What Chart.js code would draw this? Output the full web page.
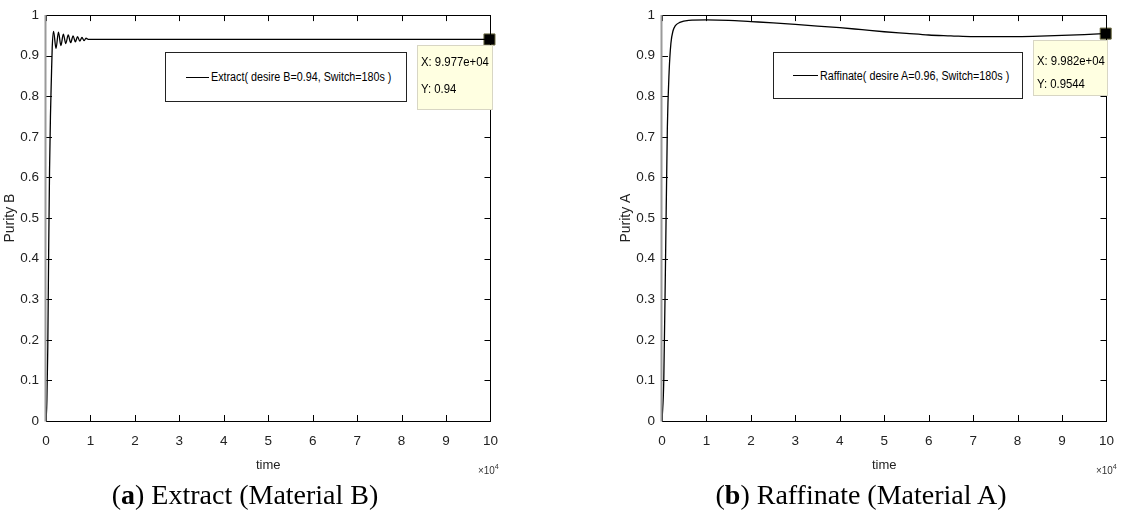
<!DOCTYPE html>
<html>
<head>
<meta charset="utf-8">
<script src="https://cdn.jsdelivr.net/npm/chart.js@4.4.1/dist/chart.umd.min.js"></script>
<style>
  html, body { margin:0; padding:0; background:#fff; }
  body { width:1126px; height:518px; position:relative; overflow:hidden;
         font-family:"Liberation Sans Narrow","Arial Narrow","Liberation Sans",Arial,sans-serif; }
  .cv { position:absolute; top:0; }
  .legend { position:absolute; background:#fff; border:1px solid #222; box-sizing:border-box;
            display:flex; align-items:center; font-size:12.5px; color:#000; white-space:nowrap; }
  .legend .ln { display:inline-block; height:0; border-top:1.3px solid #000; margin-right:2px; flex:none; }
  .legend .tx { display:inline-block; transform:scaleX(0.86); transform-origin:left center; }
  .tip { position:absolute; background:#ffffe1; border:1px solid #d8d6c4; box-sizing:border-box;
         font-size:13.5px; color:#000; white-space:nowrap; }
  .tip div { position:absolute; left:3px; transform:scaleX(0.84); transform-origin:left center; }
  .mult { position:absolute; font-size:11px; color:#333; transform:scaleX(0.9); transform-origin:left top; }
  .mult sup { font-size:8px; vertical-align:5px; }
  .cap { position:absolute; top:479px; font-family:"Liberation Serif","Times New Roman",serif;
         font-size:28px; color:#000; white-space:nowrap; transform:translateX(-50%); }
</style>
</head>
<body>
<canvas id="cA" class="cv" style="left:0px" width="510" height="480"></canvas>
<canvas id="cB" class="cv" style="left:616px" width="510" height="480"></canvas>

<div class="legend" style="left:165px;top:52px;width:242px;height:50px;padding-left:20px;">
  <span class="ln" style="width:23px"></span><span class="tx" id="legAtext"></span></div>
<div class="legend" style="left:773px;top:52px;width:250px;height:47px;padding-left:19px;">
  <span class="ln" style="width:25px"></span><span class="tx" id="legBtext"></span></div>

<div class="tip" style="left:417px;top:45px;width:76px;height:65px;">
  <div id="tipAx" style="top:8px"></div><div id="tipAy" style="top:35px"></div></div>
<div class="tip" style="left:1033px;top:40px;width:75px;height:56px;">
  <div id="tipBx" style="top:12px"></div><div id="tipBy" style="top:35px"></div></div>

<div class="mult" style="left:478px;top:462px">&times;10<sup>4</sup></div>
<div class="mult" style="left:1096px;top:462px">&times;10<sup>4</sup></div>

<div class="cap" style="left:245px">(<b>a</b>) Extract (Material B)</div>
<div class="cap" style="left:861px">(<b>b</b>) Raffinate (Material A)</div>

<script>
// ---- data (time in units of 10^4 s) ----
const xTickValues = [0,1,2,3,4,5,6,7,8,9,10];
const yTickValues = [0,0.1,0.2,0.3,0.4,0.5,0.6,0.7,0.8,0.9,1];

const extractTime   = [0,0.02,0.04,0.06,0.08,0.10,0.12,0.14,0.17,0.225,0.28,0.335,0.39,0.445,0.50,0.555,0.61,0.66,0.71,0.76,0.81,0.855,0.90,0.95,1.0,2,3,4,5,6,7,8,9,9.977];
const extractPurity = [0,0.05,0.18,0.42,0.62,0.75,0.84,0.92,0.960,0.918,0.958,0.925,0.953,0.930,0.951,0.932,0.949,0.934,0.947,0.936,0.945,0.937,0.943,0.940,0.940,0.94,0.94,0.94,0.94,0.94,0.94,0.94,0.94,0.94];

const raffTime   = [0,0.04,0.08,0.12,0.16,0.20,0.25,0.30,0.40,0.60,1.0,1.5,2,2.5,3,3.5,4,4.5,5,5.5,6,6.5,7,7.5,8,8.5,9,9.5,9.982];
const raffPurity = [0,0.10,0.40,0.72,0.86,0.93,0.962,0.974,0.982,0.987,0.988,0.987,0.984,0.981,0.977,0.973,0.969,0.964,0.959,0.955,0.951,0.949,0.947,0.947,0.947,0.948,0.950,0.952,0.9544];

const extractLabel = "Extract( desire B=0.94, Switch=180s )";
const raffLabel    = "Raffinate( desire A=0.96, Switch=180s )";
const tipA = { xText:"X: 9.977e+04", yText:"Y: 0.94",   x:9.977, y:0.94 };
const tipB = { xText:"X: 9.982e+04", yText:"Y: 0.9544", x:9.982, y:0.9544 };

document.getElementById('legAtext').textContent = extractLabel;
document.getElementById('legBtext').textContent = raffLabel;
document.getElementById('tipAx').textContent = tipA.xText;
document.getElementById('tipAy').textContent = tipA.yText;
document.getElementById('tipBx').textContent = tipB.xText;
document.getElementById('tipBy').textContent = tipB.yText;

const FONT = "'Liberation Sans Narrow','Arial Narrow','Liberation Sans',Arial,sans-serif";

const boxTicks = {
  id:'boxTicks',
  afterDatasetsDraw(chart){
    const {ctx, chartArea:a, scales:{x,y}} = chart;
    ctx.save();
    ctx.lineWidth = 1;
    ctx.strokeStyle = '#000';
    const L = 6;
    ctx.beginPath();
    xTickValues.forEach(v=>{
      const p = Math.round(x.getPixelForValue(v))+0.5;
      ctx.moveTo(p,a.bottom); ctx.lineTo(p,a.bottom-L);
      ctx.moveTo(p,a.top); ctx.lineTo(p,a.top+L);
    });
    yTickValues.forEach(v=>{
      const p = Math.round(y.getPixelForValue(v))+0.5;
      ctx.moveTo(a.left,p); ctx.lineTo(a.left+L,p);
      ctx.moveTo(a.right,p); ctx.lineTo(a.right-L,p);
    });
    ctx.stroke();
    ctx.beginPath();
    ctx.moveTo(a.left, Math.round(a.top)+0.5); ctx.lineTo(a.right, Math.round(a.top)+0.5);
    ctx.moveTo(Math.round(a.right)+0.5, a.top); ctx.lineTo(Math.round(a.right)+0.5, a.bottom);
    ctx.moveTo(a.left, Math.round(a.bottom)+0.5); ctx.lineTo(a.right+0.5, Math.round(a.bottom)+0.5);
    ctx.stroke();
    ctx.strokeStyle = '#9a9a9a';
    ctx.lineWidth = 2;
    ctx.beginPath();
    ctx.moveTo(a.left-0.5, a.top); ctx.lineTo(a.left-0.5, a.bottom+0.5);
    ctx.stroke();
    ctx.restore();
  }
};

function makeChart(id, times, values, label, tip, yTitle, padRight){
  const pts = times.map((t,i)=>({x:t, y:values[i]}));
  return new Chart(document.getElementById(id), {
    type:'line',
    data:{ datasets:[
      { label, data:pts, borderColor:'#000', borderWidth:1.3, pointRadius:0,
        cubicInterpolationMode:'monotone', fill:false },
      { label:'datatip', data:[{x:tip.x, y:tip.y}], showLine:false, pointStyle:'rect',
        pointRadius:7.8, backgroundColor:'#000', borderColor:'#6b6a40', borderWidth:1, clip:false }
    ]},
    options:{
      responsive:false, animation:false, events:[],
      layout:{ padding:{ left:0, right:padRight, top:13, bottom:0 } },
      plugins:{ legend:{display:false}, tooltip:{enabled:false} },
      scales:{
        x:{ type:'linear', min:0, max:10,
            afterBuildTicks:(s)=>{ s.ticks = xTickValues.map(v=>({value:v})); },
            afterFit:(s)=>{ s.height = 59; },
            grid:{ display:false, drawTicks:false }, border:{ display:false },
            ticks:{ color:'#222', padding:12, font:{family:FONT, size:13.5}, maxRotation:0,
                    callback:(v)=>String(v) },
            title:{ display:true, text:'time', color:'#222', font:{family:FONT, size:13},
                    padding:{top:0,bottom:7} } },
        y:{ type:'linear', min:0, max:1,
            afterBuildTicks:(s)=>{ s.ticks = yTickValues.map(v=>({value:v})); },
            afterFit:(s)=>{ s.width = 46; },
            grid:{ display:false, drawTicks:false }, border:{ display:false },
            ticks:{ color:'#222', padding:7, font:{family:FONT, size:13.5},
                    callback:(v)=>String(Math.round(v*10)/10) },
            title:{ display:true, text:yTitle, color:'#222', font:{family:FONT, size:14},
                    padding:{top:2,bottom:0} } }
      }
    },
    plugins:[boxTicks]
  });
}

makeChart('cA', extractTime, extractPurity, extractLabel, tipA, 'Purity B', 12);
makeChart('cB', raffTime, raffPurity, raffLabel, tipB, 'Purity A', 10);
</script>
</body>
</html>
